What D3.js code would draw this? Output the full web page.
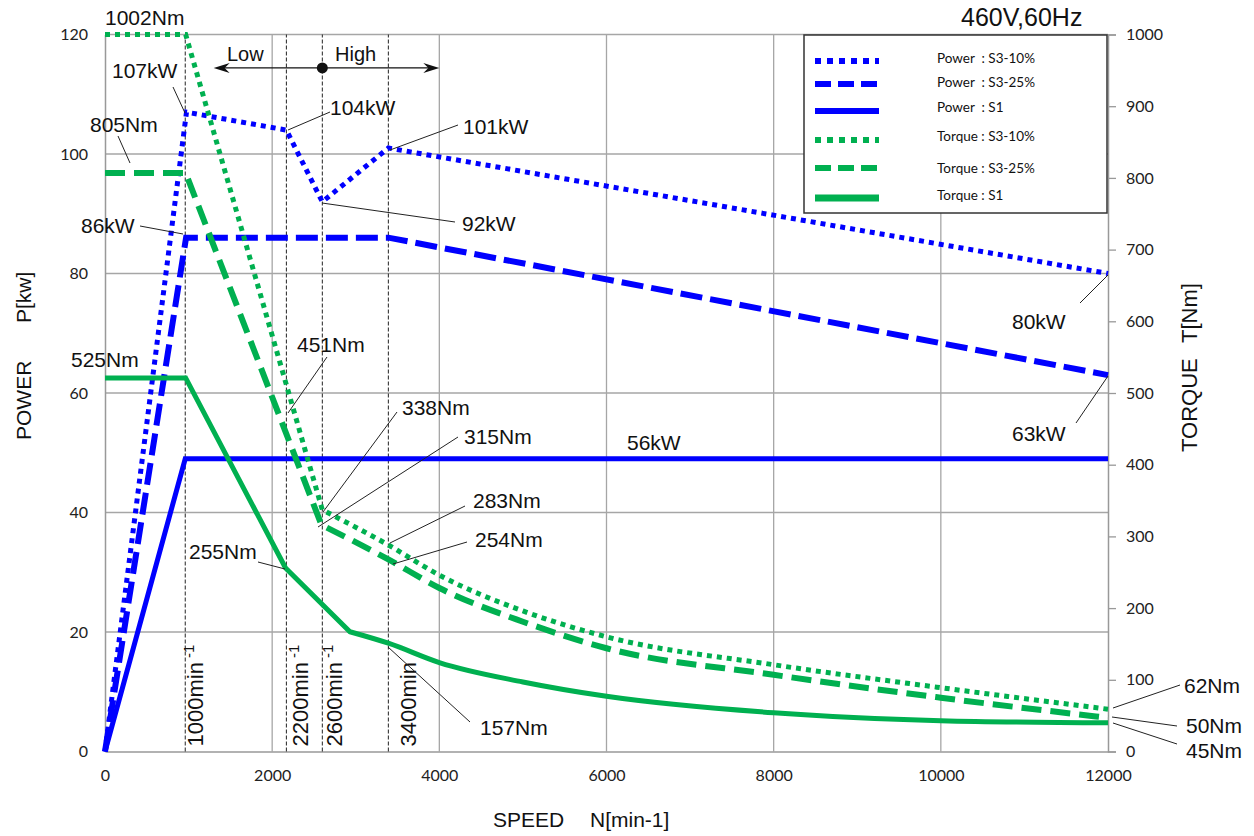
<!DOCTYPE html>
<html>
<head>
<meta charset="utf-8">
<script src="https://cdn.jsdelivr.net/npm/d3@7"></script>
<style>
  body { margin: 0; background: #fff; }
  text { font-family: "Liberation Sans", Arial, sans-serif; fill: #111; }
  .tick-label { font-family: Lato, "Open Sans", sans-serif; font-size: 16px; fill: #222; }
  .legend text { font-family: Lato, "Open Sans", sans-serif; font-size: 13.5px; white-space: pre; }
  .note { font-size: 21px; }
</style>
</head>
<body>
<svg id="chart" width="1254" height="836"></svg>
<script>
// axis ticks
const speedTicks = [0, 2000, 4000, 6000, 8000, 10000, 12000];
const powerTicks = [0, 20, 40, 60, 80, 100, 120];
const torqueTicks = [0, 100, 200, 300, 400, 500, 600, 700, 800, 900, 1000];

// speed markers (dashed verticals)
const markSpeeds = [960, 2170, 2600, 3390];
const markLabels = ['1000', '2200', '2600', '3400'];
const markSup = ['-1', '-1', '-1', ''];

// power curves [kW]
const pS310Speed = [0, 975, 2170, 2600, 3390, 12000];
const pS310 = [0, 107, 104, 92, 101, 80];
const pS325Speed = [0, 970, 3390, 12000];
const pS325 = [0, 86, 86, 63];
const pS1Speed = [0, 960, 12000];
const pS1 = [0, 49, 49];

// torque curves [Nm]
const tS310Speed = [0, 965, 2600, 3390, 4000, 5000, 6000, 8000, 10000, 12000];
const tS310 = [1000, 1000, 337, 288, 246, 196, 160, 121, 89, 59];
const tS325Speed = [0, 965, 2590, 3390, 4000, 5000, 6000, 8000, 10000, 12000];
const tS325 = [807, 807, 316, 268, 228, 181, 144, 107, 75, 47];
const tS1Speed = [0, 965, 2160, 2930, 3390, 4000, 5000, 6000, 8000, 10000, 12000];
const tS1 = [521, 521, 256, 167, 151, 124, 97, 77, 54, 43, 40];

const legendLabels = ['Power  : S3-10%', 'Power  : S3-25%', 'Power  : S1',
                      'Torque : S3-10%', 'Torque : S3-25%', 'Torque : S1'];

const BLUE = '#0000ff', GREEN = '#00b050';

const series = [
  { speed: pS310Speed, val: pS310, axis: 'p', color: BLUE, w: 5, dash: '5,5', smoothFrom: null },
  { speed: pS325Speed, val: pS325, axis: 'p', color: BLUE, w: 6, dash: '22,8', smoothFrom: null },
  { speed: pS1Speed, val: pS1, axis: 'p', color: BLUE, w: 5, dash: null, smoothFrom: null },
  { speed: tS310Speed, val: tS310, axis: 't', color: GREEN, w: 5, dash: '5,5', smoothFrom: 2 },
  { speed: tS325Speed, val: tS325, axis: 't', color: GREEN, w: 6, dash: '20,9', smoothFrom: 2 },
  { speed: tS1Speed, val: tS1, axis: 't', color: GREEN, w: 5, dash: null, smoothFrom: 3 }
];

const margin = { left: 105, right: 146, top: 34.5, bottom: 84.5 };
const W = 1254, H = 836;

const svg = d3.select('#chart');

const x = d3.scaleLinear().domain([0, 12000]).range([margin.left, W - margin.right]);
const yP = d3.scaleLinear().domain([0, 120]).range([H - margin.bottom, margin.top]);
const yT = d3.scaleLinear().domain([0, 1000]).range([H - margin.bottom, margin.top]);

// grid
const grid = svg.append('g').attr('stroke', '#a6a6a6').attr('stroke-width', 1.3);
grid.selectAll('.vg').data(speedTicks.slice(1, -1)).enter().append('line')
  .attr('x1', d => x(d)).attr('x2', d => x(d))
  .attr('y1', yP(0)).attr('y2', yP(120));
grid.selectAll('.hg').data(powerTicks.slice(1)).enter().append('line')
  .attr('x1', x(0)).attr('x2', x(12000))
  .attr('y1', d => yP(d)).attr('y2', d => yP(d));

// axes
const fmt = d3.format('d');
const xAxis = d3.axisBottom(x).tickValues(speedTicks).tickFormat(fmt).tickSize(0).tickPadding(18);
const gx = svg.append('g').attr('transform', `translate(0,${yP(0)})`).call(xAxis);
const yAxisL = d3.axisLeft(yP).tickValues(powerTicks).tickFormat(fmt).tickSize(0).tickPadding(17);
const gyl = svg.append('g').attr('transform', `translate(${x(0)},0)`).call(yAxisL);
const yAxisR = d3.axisRight(yT).tickValues(torqueTicks).tickFormat(fmt).tickSize(8).tickPadding(10);
const gyr = svg.append('g').attr('transform', `translate(${x(12000)},0)`).call(yAxisR);
[gx, gyl, gyr].forEach(g => {
  g.select('.domain').attr('stroke', '#999').attr('stroke-width', 1.5);
  g.selectAll('.tick line').attr('stroke', '#999').attr('stroke-width', 1.3);
  g.selectAll('.tick text').attr('class', 'tick-label').attr('fill', '#222');
  g.attr('font-size', null).attr('font-family', null);
});

// speed markers
const marks = svg.append('g');
marks.selectAll('line').data(markSpeeds).enter().append('line')
  .attr('x1', d => x(d)).attr('x2', d => x(d))
  .attr('y1', yP(0)).attr('y2', yP(120))
  .attr('stroke', '#222').attr('stroke-width', 1).attr('stroke-dasharray', '4,2');
const markOffset = [18, 22, 20, 28];
markSpeeds.forEach((s, i) => {
  const t = marks.append('text')
    .attr('transform', `translate(${x(s) + markOffset[i]},${yP(0) - 5}) rotate(-90)`)
    .attr('font-size', 22);
  t.append('tspan').text(markLabels[i] + 'min');
  if (markSup[i]) t.append('tspan').attr('font-size', 15).attr('dy', -9).attr('dx', 4).text(markSup[i]);
});

// Low / High arrow
const arrowY = yP(114.4);
const ax1 = x(1300), ax2 = x(4000), axc = x(2600);
svg.append('line').attr('x1', ax1 + 4).attr('x2', ax2 - 4).attr('y1', arrowY).attr('y2', arrowY)
  .attr('stroke', '#111').attr('stroke-width', 1.3);
svg.append('path').attr('d', `M${ax1},${arrowY} L${ax1 + 16},${arrowY - 5} L${ax1 + 11},${arrowY} L${ax1 + 16},${arrowY + 5} Z`).attr('fill', '#111');
svg.append('path').attr('d', `M${ax2},${arrowY} L${ax2 - 16},${arrowY - 5} L${ax2 - 11},${arrowY} L${ax2 - 16},${arrowY + 5} Z`).attr('fill', '#111');
svg.append('circle').attr('cx', axc).attr('cy', arrowY).attr('r', 5.5).attr('fill', '#111');
svg.append('text').attr('x', 227).attr('y', 61).attr('font-size', 20).text('Low');
svg.append('text').attr('x', 335).attr('y', 61).attr('font-size', 20).text('High');

// series lines
const linear = d3.line().x(d => x(d[0])).y(d => d[2](d[1]));
const smooth = d3.line().x(d => x(d[0])).y(d => d[2](d[1])).curve(d3.curveMonotoneX);
series.forEach(s => {
  const sc = s.axis === 'p' ? yP : yT;
  const pts = s.speed.map((v, i) => [v, s.val[i], sc]);
  let d;
  if (s.smoothFrom === null) {
    d = linear(pts);
  } else {
    const head = linear(pts.slice(0, s.smoothFrom + 1));
    const tail = smooth(pts.slice(s.smoothFrom)).replace(/^M/, 'L');
    d = head + tail;
  }
  svg.append('path').attr('d', d)
    .attr('fill', 'none').attr('stroke', s.color).attr('stroke-width', s.w)
    .attr('stroke-dasharray', s.dash).attr('stroke-linejoin', 'miter');
});

// legend
const lg = svg.append('g').attr('class', 'legend');
lg.append('rect').attr('x', 804).attr('y', 35).attr('width', 303).attr('height', 178)
  .attr('fill', '#fff').attr('stroke', '#333').attr('stroke-width', 1.5);
const legendLineY = [61, 84, 111, 140, 168, 198];
const legendTextY = [58, 82, 107, 136, 168, 195];
const legendDash = ['6,6', '16,7', null, '6,6', '16,7', null];
const legendW = [6, 6, 6, 6, 6, 7];
series.forEach((s, i) => {
  lg.append('line').attr('x1', 815).attr('x2', 879)
    .attr('y1', legendLineY[i]).attr('y2', legendLineY[i])
    .attr('stroke', s.color).attr('stroke-width', legendW[i])
    .attr('stroke-dasharray', legendDash[i]);
  lg.append('text').attr('x', 937).attr('y', legendTextY[i]).attr('dy', '0.35em')
    .text(legendLabels[i]);
});

// title
svg.append('text').attr('x', 961).attr('y', 26).attr('font-size', 25).text('460V,60Hz');

// axis titles
svg.append('text').attr('transform', 'translate(31,440) rotate(-90)').attr('font-size', 21).text('POWER');
svg.append('text').attr('transform', 'translate(31,323) rotate(-90)').attr('font-size', 21).text('P[kw]');
svg.append('text').attr('transform', 'translate(1197,452) rotate(-90)').attr('font-size', 22).text('TORQUE');
svg.append('text').attr('transform', 'translate(1197,343) rotate(-90)').attr('font-size', 22).text('T[Nm]');
svg.append('text').attr('x', 493).attr('y', 827).attr('font-size', 21).text('SPEED');
svg.append('text').attr('x', 590).attr('y', 827).attr('font-size', 21).text('N[min-1]');

// value annotations (label position + leader line, in pixels)
const notes = [
  { t: '1002Nm', x: 105, y: 25 },
  { t: '107kW', x: 112, y: 78, l: [173, 87, 185, 113] },
  { t: '104kW', x: 330, y: 115, l: [288, 130, 330, 112] },
  { t: '101kW', x: 463, y: 134, l: [390, 150, 458, 125] },
  { t: '92kW', x: 462, y: 231, l: [322, 203, 455, 222] },
  { t: '86kW', x: 81, y: 233, l: [140, 226, 183, 234] },
  { t: '805Nm', x: 90, y: 132, l: [118, 136, 130, 163] },
  { t: '525Nm', x: 71, y: 367 },
  { t: '451Nm', x: 297, y: 352, l: [327, 357, 288, 413] },
  { t: '338Nm', x: 402, y: 415, l: [397, 412, 323, 512] },
  { t: '315Nm', x: 464, y: 444, l: [458, 437, 318, 527] },
  { t: '283Nm', x: 473, y: 508, l: [465, 506, 390, 543] },
  { t: '254Nm', x: 475, y: 547, l: [467, 542, 393, 564] },
  { t: '255Nm', x: 189, y: 559, l: [258, 562, 285, 569] },
  { t: '157Nm', x: 480, y: 735, l: [470, 722, 388, 647] },
  { t: '56kW', x: 627, y: 450 },
  { t: '80kW', x: 1012, y: 329, l: [1080, 303, 1108, 275] },
  { t: '63kW', x: 1012, y: 441, l: [1076, 423, 1108, 376] },
  { t: '62Nm', x: 1184, y: 693, l: [1113, 708, 1180, 685] },
  { t: '50Nm', x: 1186, y: 733, l: [1112, 717, 1177, 726] },
  { t: '45Nm', x: 1186, y: 758, l: [1113, 723, 1177, 744] }
];
const ng = svg.append('g');
notes.forEach(n => {
  if (n.l) ng.append('line').attr('x1', n.l[0]).attr('y1', n.l[1]).attr('x2', n.l[2]).attr('y2', n.l[3])
    .attr('stroke', '#222').attr('stroke-width', 1);
  ng.append('text').attr('class', 'note').attr('x', n.x).attr('y', n.y).text(n.t);
});
</script>
</body>
</html>
